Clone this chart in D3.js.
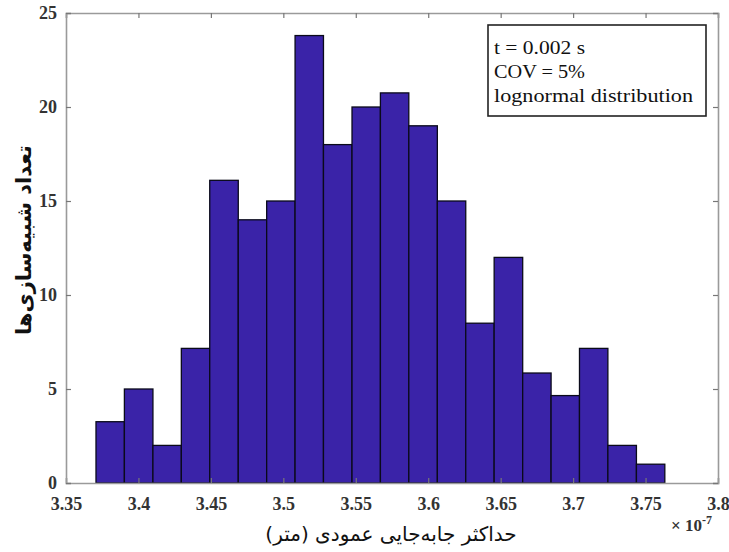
<!DOCTYPE html>
<html>
<head>
<meta charset="utf-8">
<script src="https://cdn.jsdelivr.net/npm/d3@7"></script>
<style>
  html, body { margin: 0; padding: 0; background: #fff; }
  svg { display: block; }
  .serif { font-family: "Liberation Serif", "Times New Roman", Times, serif; }
</style>
</head>
<body>
<svg id="chart" width="729" height="552"></svg>
<script>
// Histogram bin edges (displacement, ×1e-7 m)
const binEdges = [3.3707, 3.3903, 3.4100, 3.4296, 3.4492, 3.4689, 3.4885, 3.5081,
  3.5277, 3.5474, 3.5670, 3.5866, 3.6063, 3.6259, 3.6455, 3.6652, 3.6848,
  3.7044, 3.7240, 3.7437, 3.7633];
// Number of simulations in each bin
const counts = [3.26, 5, 2, 7.16, 16.1, 14, 15, 23.8, 18, 20, 20.75, 19, 15,
  8.5, 12, 5.85, 4.65, 7.16, 2, 1];
const xTicks = [3.35, 3.4, 3.45, 3.5, 3.55, 3.6, 3.65, 3.7, 3.75, 3.8];
const yTicks = [0, 5, 10, 15, 20, 25];
const legendLines = ["t = 0.002 s", "COV = 5%", "lognormal distribution"];
const xTitle = "حداکثر جابه‌جایی عمودی (متر)";
const yTitle = "تعداد شبیه‌سازی‌ها";

const svg = d3.select("#chart");
const W = 729, H = 552;
const m = { left: 66, top: 13, right: 11, bottom: 69 };
const pw = W - m.left - m.right, ph = H - m.top - m.bottom;

const x = d3.scaleLinear().domain([3.35, 3.8]).range([m.left, m.left + pw]);
const y = d3.scaleLinear().domain([0, 25]).range([m.top + ph, m.top]);

const bins = counts.map((c, i) => ({ x0: binEdges[i], x1: binEdges[i + 1], c }));

// bars
svg.append("g").selectAll("rect").data(bins).join("rect")
  .attr("x", d => x(d.x0))
  .attr("y", d => y(d.c))
  .attr("width", d => x(d.x1) - x(d.x0))
  .attr("height", d => y(0) - y(d.c))
  .attr("fill", "#3a23a8")
  .attr("stroke", "#0a0a1a")
  .attr("stroke-width", 1.3);

const axisColor = "#9a9a9a";
const fmt = d => (d === 0 ? "0" : String(d));

// bottom axis (inward ticks)
const gx = svg.append("g").attr("transform", `translate(0,${y(0)})`)
  .call(d3.axisBottom(x).tickValues(xTicks).tickSize(-5).tickPadding(17).tickFormat(d3.format("")));
// top axis mirror
const gxt = svg.append("g").attr("transform", `translate(0,${m.top})`)
  .call(d3.axisTop(x).tickValues(xTicks).tickSize(-5).tickFormat(""));
// left axis
const gy = svg.append("g").attr("transform", `translate(${m.left},0)`)
  .call(d3.axisLeft(y).tickValues(yTicks).tickSize(-5).tickPadding(9).tickFormat(fmt));
// right axis mirror
const gyr = svg.append("g").attr("transform", `translate(${m.left + pw},0)`)
  .call(d3.axisRight(y).tickValues(yTicks).tickSize(-5).tickFormat(""));

[gx, gxt, gy, gyr].forEach(g => {
  g.attr("font-family", null).attr("font-size", null);
  g.select(".domain").attr("stroke", axisColor).attr("stroke-width", 1.6);
  g.selectAll(".tick line").attr("stroke", "#777").attr("stroke-width", 1.2);
  g.selectAll("text")
    .attr("class", "serif")
    .attr("fill", "#333")
    .style("font-weight", "bold")
    .style("font-size", "18px");
});
gx.selectAll(".tick text").attr("dy", "0.55em");

// ×10^-7 exponent
const ex = svg.append("text")
  .attr("class", "serif")
  .attr("x", 671).attr("y", 531)
  .style("font-weight", "bold")
  .style("font-size", "17px")
  .attr("fill", "#333");
ex.append("tspan").text("× 10");
ex.append("tspan").attr("dy", -7).style("font-size", "12px").text("-7");

// legend box
const lg = svg.append("g");
lg.append("rect")
  .attr("x", 488).attr("y", 25).attr("width", 218).attr("height", 91)
  .attr("fill", "#fff").attr("stroke", "#222").attr("stroke-width", 1.6);
const lineWidths = [91, 91, 199];
lg.selectAll("text").data(legendLines).join("text")
  .attr("class", "serif")
  .attr("x", 494)
  .attr("y", (d, i) => 54 + i * 24)
  .attr("textLength", (d, i) => lineWidths[i])
  .attr("lengthAdjust", "spacingAndGlyphs")
  .style("font-size", "19px")
  .attr("fill", "#111")
  .text(d => d);

// axis titles
svg.append("text")
  .attr("x", 391).attr("y", 541)
  .attr("text-anchor", "middle")
  .attr("direction", "rtl")
  .style("font-family", "'DejaVu Sans', sans-serif")
  .style("font-size", "20px")
  .attr("fill", "#111")
  .text(xTitle);

svg.append("text")
  .attr("transform", "translate(31,240) rotate(-90)")
  .attr("text-anchor", "middle")
  .attr("direction", "rtl")
  .style("font-family", "'DejaVu Sans', sans-serif")
  .style("font-weight", "bold")
  .style("font-size", "21px")
  .attr("fill", "#111")
  .text(yTitle);
</script>
</body>
</html>
